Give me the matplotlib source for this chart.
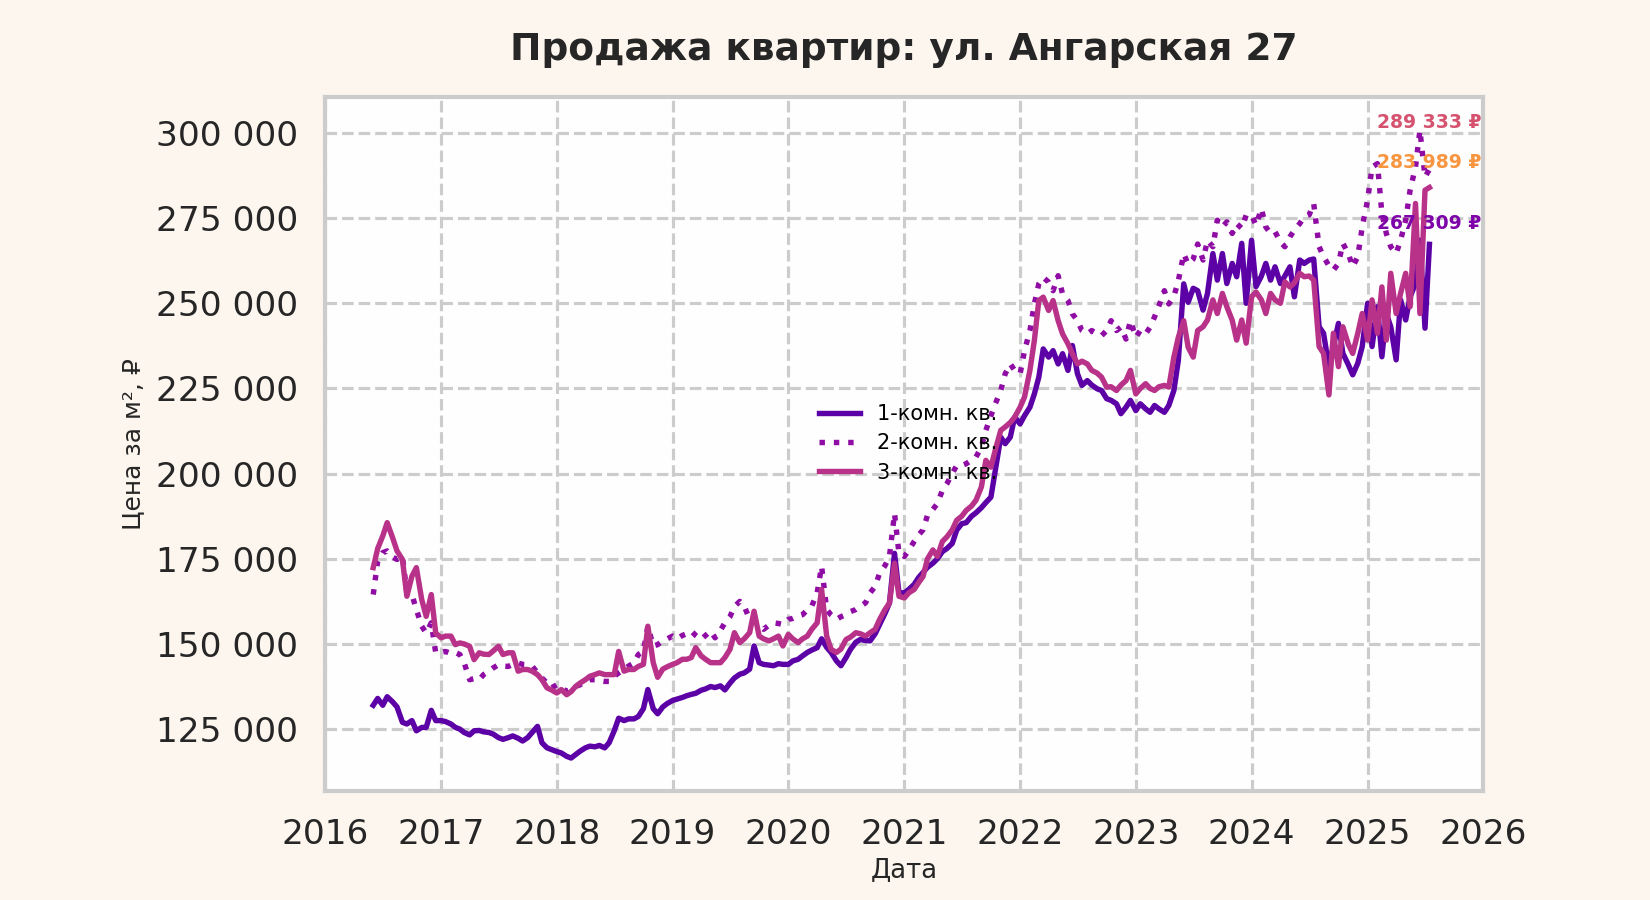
import numpy as np
import pandas as pd
import matplotlib
matplotlib.use("Agg")
from matplotlib import pyplot as plt
import matplotlib.dates as mdates
from matplotlib.ticker import FuncFormatter

# semi-monthly observations, price per m2 in thousands of rubles
dates = pd.date_range("2016-06-01", "2025-07-15", freq="SMS")

room1 = [
    # 2016
    132, 134, 132, 134.5, 133, 131.5, 127, 126.5, 127.5, 124.5, 125.5, 125.5, 130.5, 127.5,
    # 2017
    127.5, 127.2, 126.5, 125.5, 125, 124, 123.3, 124.5, 124.6, 124.2, 124, 123.5,
    122.5, 122, 122.5, 123, 122.3, 121.5, 122.5, 124, 125.8, 121, 119.5, 119,
    # 2018
    118.4, 118, 117, 116.5, 117.5, 118.5, 119.5, 120, 119.8, 120.2, 119.5, 121,
    124.5, 128.2, 127.5, 128, 128, 128.7, 131, 136.6, 131, 129.5, 131.5, 132.5,
    # 2019
    133.4, 133.8, 134.3, 134.8, 135.2, 135.5, 136.4, 136.8, 137.5, 137.2, 137.7, 136.5,
    138.5, 140, 141.1, 141.5, 142.6, 149.4, 144.5, 144, 143.8, 143.6, 144.2, 144,
    # 2020
    144, 145, 145.5, 146.5, 147.5, 148.2, 148.9, 151.5, 149, 147.5, 145, 143.6,
    146, 148.4, 150.5, 151.3, 151, 150.9, 153, 155.7, 159, 162, 176.6, 165,
    # 2021
    165, 166, 167.5, 169.5, 171, 172.5, 173.7, 175, 177.1, 178, 179.5, 183.4,
    185.3, 185.6, 187.5, 188.5, 190, 191.5, 193.1, 201, 210.7, 208.8, 210.7, 216.6,
    # 2022
    214.6, 217, 219.5, 223.4, 228.3, 236.6, 234.2, 236.1, 232.2, 235.2, 230.3, 237.6,
    229.3, 225.9, 227.3, 226, 224.9, 224.4, 222, 221.5, 220.5, 217.6, 219.5, 221.5,
    # 2023
    218.5, 220.5, 219, 218, 220, 219, 218, 220, 224.4, 233.2, 255.7, 250.3,
    254.4, 253.7, 248, 252.9, 264.6, 256.8, 264.6, 255.8, 261.7, 257.8, 267.6, 250,
    # 2024
    268.5, 254.9, 258, 261.7, 256.8, 260.7, 255.8, 258, 260.7, 251.9, 262.7, 261.7,
    262.7, 263, 243.1, 241.2, 231.4, 237.3, 244.1, 235.3, 232, 229, 232.4, 237.3,
    # 2025
    250, 237.3, 249, 234.3, 247, 243.1, 233.4, 251, 245.1, 251.9, 255.8, 268.5, 242.7, 267.309,
]

room2 = [
    # 2016
    164.5, 174.3, 176.8, 177.3, 175.5, 174.8, 175.8, 165, 164.5, 160.1, 155.2, 153.2, 156.2, 147.4,
    # 2017
    147.5, 147.8, 147.2, 147.5, 146.9, 144.4, 139.5, 139.8, 139.5, 141, 142, 143,
    143.9, 143.5, 143.4, 144, 144.4, 144, 143.9, 143.5, 141.5, 140, 138.5, 137.1,
    # 2018
    138, 137, 136.1, 137, 137.5, 138, 139, 139.5, 139.5, 139.2, 139, 139,
    140.5, 141.5, 142.5, 143.5, 144.4, 146.9, 147.8, 155.2, 149.4, 149.8, 150.9, 151.5,
    # 2019
    152.3, 151.5, 152.5, 153, 153.8, 152.5, 151.3, 152.5, 153.8, 151.8, 154, 156.2,
    158, 161, 162.5, 161.1, 157.2, 157, 155.5, 154.3, 155.5, 156.2, 156, 155.7,
    # 2020
    157.2, 157.5, 158.2, 158.6, 160, 161.1, 165, 172.8, 160.1, 158.5, 157.2, 158,
    158.6, 159.5, 160.1, 161, 162.1, 165, 166.9, 170.8, 173, 175.7, 188.3, 176.6,
    # 2021
    175.7, 177.5, 180.1, 182, 183.5, 187.8, 189.5, 191.2, 195.1, 197, 200, 202.4,
    202.4, 202.9, 204, 204.9, 207.8, 212.7, 217, 220.5, 224.4, 229.3, 232.2, 230.3,
    # 2022
    229.3, 236.1, 242, 249.8, 255.7, 257.6, 256.2, 253.7, 258.1, 252.7, 250.8, 246.9,
    244.9, 242, 241, 242, 241, 240.5, 242, 244.9, 242, 243, 239.5, 244.9,
    # 2023
    240, 242, 241, 243, 246, 249.3, 253.7, 249.8, 252, 256.6, 264.5, 261.5,
    263, 267.4, 262.7, 268.5, 266.6, 274.4, 272.4, 273.9, 270.5, 273.4, 272, 275.9,
    # 2024
    275.9, 272.9, 277.8, 272.4, 270.5, 271, 268, 266.6, 269.5, 271.5, 273.4, 275.4,
    276, 279.3, 266.6, 263.7, 261, 259.7, 261.7, 267.6, 264.6, 260.7, 263.7, 272.4,
    # 2025
    280.3, 290, 291, 276.4, 270.5, 266.6, 264.6, 268.5, 274.4, 283.2, 290, 300.8, 287.1, 289.333,
]

room3 = [
    # 2016
    172.4, 178, 181.7, 185.6, 181.2, 177.3, 174.8, 164, 169.9, 172.4, 163, 158.1, 164.5, 153.2,
    # 2017
    151.8, 152.3, 152.3, 149.8, 150.3, 150, 149.3, 145.4, 147.4, 147, 146.9, 148,
    149.3, 146.9, 147.4, 147.4, 142, 142.5, 142.5, 142, 141, 139.5, 137.1, 136.5,
    # 2018
    135.6, 136.6, 135.1, 136, 137.5, 138.5, 139.5, 140.5, 141, 141.5, 141, 141,
    141, 147.8, 142, 142.5, 142.5, 143.4, 144, 155.2, 144.5, 140.2, 142.6, 143.3,
    # 2019
    144, 144.5, 145.5, 145.5, 146, 148.9, 146.5, 145.5, 144.5, 144.5, 144.5, 146,
    148.4, 153.3, 150.4, 151.5, 153.3, 159.6, 152.3, 151.5, 150.9, 151.5, 152.3, 149.4,
    # 2020
    152.8, 151.5, 150.4, 151.5, 152.3, 154.3, 156.2, 166, 152.3, 148.4, 147.5, 148.5,
    151.3, 152, 153.3, 153, 152.3, 153.3, 154.3, 157.2, 160.1, 162, 173.7, 164,
    # 2021
    163.5, 165, 166, 168, 169.8, 175, 177.6, 175.7, 180.1, 181.4, 183.5, 186.3,
    187.5, 189.2, 190.5, 192.2, 196.1, 203.9, 201.9, 207, 212.7, 213.7, 215, 216.6,
    # 2022
    219.5, 222.5, 230.3, 239.1, 250.8, 251.8, 247.9, 250.8, 244.9, 241, 238.1, 235.2,
    232.2, 233, 232.2, 230.3, 229.5, 228.3, 225.4, 225.5, 224.4, 226, 227.3, 230.3,
    # 2023
    223.4, 225, 226.4, 225, 224.4, 225.5, 225.9, 225.4, 234.2, 240, 244.9, 237.1,
    234.2, 242, 243.1, 245.1, 251, 247, 252.9, 249, 245, 239.2, 245.1, 238.3,
    # 2024
    251.9, 253.3, 251, 247, 252.9, 251, 250, 256.3, 254.8, 256, 258.8, 257.8,
    258, 256.8, 237.3, 235.3, 223.1, 241.2, 231.4, 243.1, 238, 235.3, 241.2, 247,
    # 2025
    239.2, 251, 241.2, 254.8, 239.2, 258.8, 247, 252.9, 258.8, 249, 279.3, 247, 283.2, 283.989,
]

labels = ["1-комн. кв.", "2-комн. кв.", "3-комн. кв."]
last_texts = ["289 333 ₽", "283 989 ₽", "267 309 ₽"]
last_text_y = [303000, 291300, 273400]

line_colors = ["#5c01a6", "#8f0da4", "#b83289"]
text_colors = ["#d5536f", "#f89540", "#7e03a8"]

plt.rcParams["font.family"] = ["DejaVu Sans"]

fig = plt.figure(figsize=(11, 6), dpi=150, facecolor="#fdf6ee")
ax = fig.add_axes([0.197, 0.121, 0.702, 0.771])
ax.set_facecolor("#fefefe")

ax.plot(dates, np.array(room1) * 1000, color=line_colors[0], lw=2.6, label=labels[0])
ax.plot(dates, np.array(room2) * 1000, color=line_colors[1], lw=2.6, ls=":", label=labels[1])
ax.plot(dates, np.array(room3) * 1000, color=line_colors[2], lw=2.6, label=labels[2])

for txt, ty, c in zip(last_texts, last_text_y, text_colors):
    ax.text(dates[-1], ty, txt, color=c, fontsize=9, fontweight="bold",
            ha="center", va="center")

ax.set_xlim(pd.Timestamp("2016-01-01"), pd.Timestamp("2026-01-01"))
ax.set_ylim(106800, 310500)
ax.xaxis.set_major_locator(mdates.YearLocator())
ax.xaxis.set_major_formatter(mdates.DateFormatter("%Y"))
ax.yaxis.set_major_formatter(FuncFormatter(lambda v, p: f"{v:,.0f}".replace(",", " ")))

ax.grid(True, ls="--", lw=1.5, color="#cccccc")
ax.set_axisbelow(True)
for s in ax.spines.values():
    s.set_color("#cccccc")
    s.set_linewidth(2)
ax.tick_params(length=0, labelsize=16.5, colors="#262626")
ax.tick_params(axis="y", pad=13)
ax.tick_params(axis="x", pad=13)

ax.set_title("Продажа квартир: ул. Ангарская 27", fontsize=18, fontweight="bold",
             color="#262626", pad=18)
ax.set_xlabel("Дата", fontsize=12.5, color="#262626", labelpad=3)
ax.set_ylabel("Цена за м², ₽", fontsize=12, color="#262626", labelpad=5)

ax.legend(loc="upper left", bbox_to_anchor=(0.41, 0.585), frameon=False,
          fontsize=10, labelspacing=0.45, handlelength=2)

fig.savefig("out.png", dpi=150, facecolor=fig.get_facecolor())
